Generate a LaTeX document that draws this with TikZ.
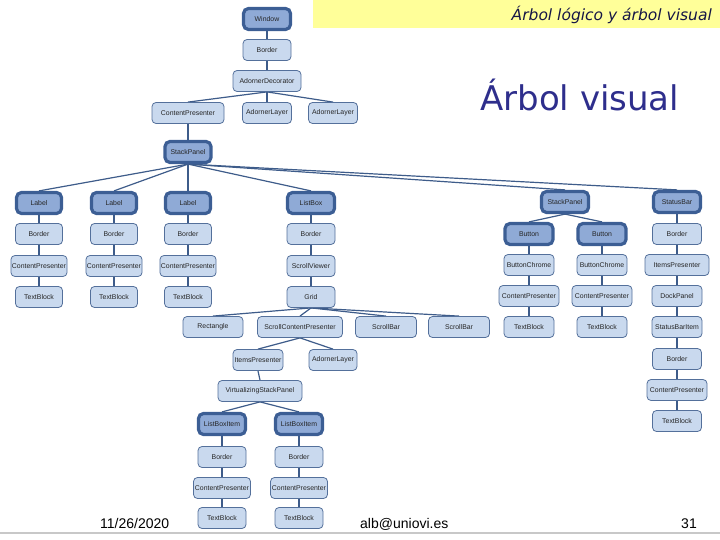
\documentclass[tikz,border=0pt]{standalone}
\usepackage{fontspec}
\setmainfont{Liberation Sans}
\newfontfamily\djv{DejaVu Sans}
\usetikzlibrary{backgrounds}
\definecolor{ndfill}{RGB}{201,217,238}
\definecolor{ndborder}{RGB}{84,112,155}
\definecolor{hlfill}{RGB}{143,170,214}
\definecolor{hlborder}{RGB}{60,94,148}
\definecolor{edgecol}{RGB}{62,92,138}
\definecolor{titleblue}{RGB}{46,46,140}
\definecolor{hdrtext}{RGB}{22,22,70}
\definecolor{band}{RGB}{255,255,153}
\definecolor{footline}{RGB}{200,200,200}
\tikzset{
  nd/.style={draw=ndborder, fill=ndfill, rounded corners=4pt, minimum height=21pt,
    inner sep=1pt, line width=0.8pt, text=black!85,
    font=\fontsize{6.9}{8}\selectfont, minimum width=48pt},
  hl/.style={nd, fill=hlfill, draw=hlborder, line width=3.2pt, rounded corners=5pt, minimum height=21pt},
  wd/.style={minimum width=#1},
  edge/.style={draw=edgecol, line width=1.2pt}
}
\begin{document}
\begin{tikzpicture}[x=1pt,y=-1pt]
\useasboundingbox (0,0) rectangle (720,540);
% header
\fill[band] (313,0) rectangle (720,28);
\node[anchor=base east, inner sep=0pt, text=hdrtext, font=\djv\itshape\fontsize{15.5}{18}\selectfont] (hdr) at (712,21) {Árbol lógico y árbol visual};
\node[anchor=base west, inner sep=0pt, text=titleblue, font=\djv\fontsize{34}{40}\selectfont] (title) at (480,111) {Árbol visual};
% footer
\draw[footline, line width=2pt] (0,533) -- (720,533);
\node[anchor=base west, inner sep=0pt, font=\fontsize{14}{16}\selectfont] (date) at (100,528) {11/26/2020};
\node[anchor=base west, inner sep=0pt, font=\fontsize{14}{16}\selectfont] (mail) at (360,528) {alb@uniovi.es};
\node[anchor=base east, inner sep=0pt, font=\fontsize{14}{16}\selectfont] (pg) at (697,528) {31};

% top chain
\node[hl, wd=47pt] (win) at (267,19) {Window};
\node[nd] (b0) at (267,50) {Border};
\node[nd, wd=68pt] (ad) at (267,81) {AdornerDecorator};
\node[nd, wd=72pt] (cp0) at (188,113) {ContentPresenter};
\node[nd, wd=49pt] (al1) at (267,113) {AdornerLayer};
\node[nd, wd=49pt] (al2) at (333,113) {AdornerLayer};
\node[hl, wd=46pt] (sp) at (188,152) {StackPanel};

% labels
\foreach \i/\x in {1/39,2/114,3/188}{
  \node[hl, wd=45pt] (l\i) at (\x,203) {Label};
  \node[nd, wd=47pt] (lb\i) at (\x,234) {Border};
  \node[nd, wd=56pt] (lc\i) at (\x,266) {ContentPresenter};
  \node[nd, wd=47pt] (lt\i) at (\x,297) {TextBlock};
}

% listbox
\node[hl, wd=47pt] (lbx) at (311,203) {ListBox};
\node[nd, wd=48pt] (lbb) at (311,234) {Border};
\node[nd, wd=48pt] (lbs) at (311,266) {ScrollViewer};
\node[nd, wd=48pt] (lbg) at (311,297) {Grid};
\node[nd, wd=60pt] (rect) at (213,327) {Rectangle};
\node[nd, wd=85pt] (scp) at (300,327) {ScrollContentPresenter};
\node[nd, wd=61pt] (sb1) at (386,327) {ScrollBar};
\node[nd, wd=61pt] (sb2) at (459,327) {ScrollBar};
\node[nd, wd=50pt] (ip) at (258,360) {ItemsPresenter};
\node[nd, wd=48pt] (al3) at (333,360) {AdornerLayer};
\node[nd, wd=84pt] (vsp) at (260,391) {VirtualizingStackPanel};
\foreach \i/\x in {1/222,2/299}{
  \node[hl, wd=47pt] (li\i) at (\x,424) {ListBoxItem};
  \node[nd, wd=48pt] (lib\i) at (\x,457) {Border};
  \node[nd, wd=57pt] (lic\i) at (\x,488) {ContentPresenter};
  \node[nd, wd=48pt] (lit\i) at (\x,518) {TextBlock};
}

% right stackpanel
\node[hl, wd=47pt] (sp2) at (565,202) {StackPanel};
\foreach \i/\x in {1/529,2/602}{
  \node[hl, wd=48pt] (bt\i) at (\x,234) {Button};
  \node[nd, wd=50pt] (bc\i) at (\x,265) {ButtonChrome};
  \node[nd, wd=60pt] (bp\i) at (\x,296) {ContentPresenter};
  \node[nd, wd=50pt] (bx\i) at (\x,327) {TextBlock};
}

% statusbar
\node[hl, wd=47pt] (sbar) at (677,202) {StatusBar};
\node[nd, wd=49pt] (sbb) at (677,234) {Border};
\node[nd, wd=64pt] (sbi) at (677,265) {ItemsPresenter};
\node[nd, wd=50pt] (sbd) at (677,296) {DockPanel};
\node[nd, wd=50pt] (sbt) at (677,327) {StatusBarItem};
\node[nd, wd=49pt] (sbb2) at (677,359) {Border};
\node[nd, wd=60pt] (sbc) at (677,390) {ContentPresenter};
\node[nd, wd=49pt] (sbx) at (677,421) {TextBlock};

\begin{scope}[on background layer]
  \draw[edge] (win.south) -- (b0.north);
  \draw[edge] (b0.south) -- (ad.north);
  \foreach \t in {cp0,al1,al2} \draw[edge] (ad.south) -- (\t.north);
  \draw[edge] (cp0.south) -- (sp.north);
  \foreach \t in {l1,l2,l3,lbx,sp2,sbar} \draw[edge] (sp.south) -- (\t.north);
  \foreach \i in {1,2,3}{
    \draw[edge] (l\i.south) -- (lb\i.north);
    \draw[edge] (lb\i.south) -- (lc\i.north);
    \draw[edge] (lc\i.south) -- (lt\i.north);
  }
  \draw[edge] (lbx.south) -- (lbb.north);
  \draw[edge] (lbb.south) -- (lbs.north);
  \draw[edge] (lbs.south) -- (lbg.north);
  \foreach \t in {rect,scp,sb1,sb2} \draw[edge] (lbg.south) -- (\t.north);
  \foreach \t in {ip,al3} \draw[edge] (scp.south) -- (\t.north);
  \draw[edge] (ip.south) -- (vsp.north);
  \foreach \i in {1,2}{
    \draw[edge] (vsp.south) -- (li\i.north);
    \draw[edge] (li\i.south) -- (lib\i.north);
    \draw[edge] (lib\i.south) -- (lic\i.north);
    \draw[edge] (lic\i.south) -- (lit\i.north);
    \draw[edge] (sp2.south) -- (bt\i.north);
    \draw[edge] (bt\i.south) -- (bc\i.north);
    \draw[edge] (bc\i.south) -- (bp\i.north);
    \draw[edge] (bp\i.south) -- (bx\i.north);
  }
  \draw[edge] (sbar.south) -- (sbb.north);
  \draw[edge] (sbb.south) -- (sbi.north);
  \draw[edge] (sbi.south) -- (sbd.north);
  \draw[edge] (sbd.south) -- (sbt.north);
  \draw[edge] (sbt.south) -- (sbb2.north);
  \draw[edge] (sbb2.south) -- (sbc.north);
  \draw[edge] (sbc.south) -- (sbx.north);
\end{scope}
\end{tikzpicture}
\end{document}
